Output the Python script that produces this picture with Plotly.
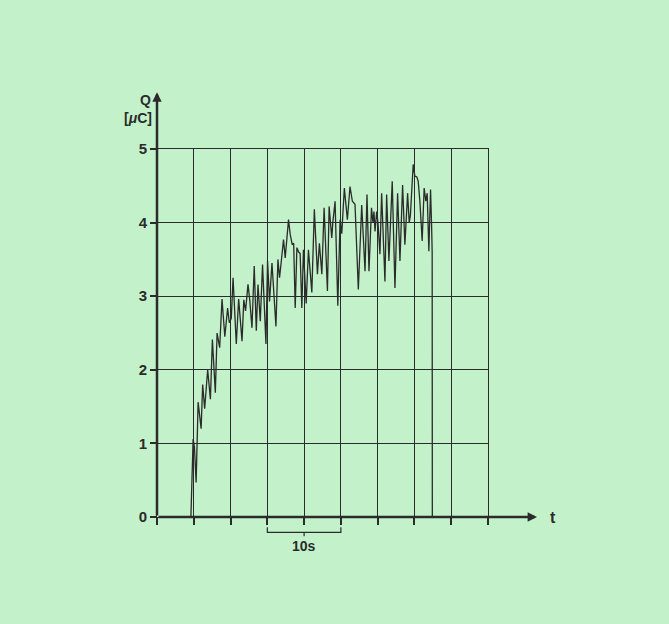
import plotly.graph_objects as go

# time in seconds (5 s per grid division), charge Q in µC
t_s = [4.61, 4.91, 5.09, 5.32, 5.59, 6.00, 6.21, 6.48, 6.89, 7.26, 7.53, 7.93, 8.17, 8.52,
       8.84, 9.22, 9.60, 9.83, 10.10, 10.34, 10.78, 11.10, 11.56, 11.80, 12.04, 12.37, 12.61,
       12.91, 13.22, 13.50, 13.73, 14.04, 14.35, 14.81, 15.03, 15.30, 15.63, 16.17, 16.44,
       16.66, 16.82, 17.20, 17.43, 17.88, 18.11, 18.38, 18.58, 18.79, 19.02, 19.26, 19.46,
       19.69, 19.91, 20.28, 20.59, 21.05, 21.39, 21.81, 22.08, 22.41, 22.72, 23.17, 23.40,
       23.76, 23.90, 24.21, 24.58, 24.89, 25.12, 25.47, 25.88, 26.24, 26.56, 26.92, 27.37,
       27.60, 27.83, 28.28, 28.55, 28.82, 29.16, 29.36, 29.50, 29.64, 29.87, 30.04, 30.31,
       30.54, 30.99, 31.22, 31.53, 31.98, 32.35, 32.71, 33.03, 33.39, 33.70, 34.07, 34.29,
       34.45, 34.83, 35.06, 35.33, 35.51, 35.74, 36.05, 36.32, 36.55, 36.73, 36.96, 37.19,
       37.33, 37.41, 37.43]
q_uc = [0.00, 1.06, 0.95, 0.47, 1.56, 1.20, 1.80, 1.47, 2.00, 1.60, 2.41, 1.69, 2.50, 2.30,
        2.96, 2.45, 2.84, 2.64, 2.70, 3.25, 2.35, 2.96, 2.39, 2.95, 2.80, 3.16, 2.95,
        2.57, 3.41, 2.53, 3.16, 2.66, 3.43, 2.35, 3.48, 2.93, 3.45, 2.59, 3.50,
        3.25, 3.40, 3.77, 3.52, 4.04, 3.84, 3.70, 3.72, 2.84, 3.66, 3.60, 3.58,
        2.84, 3.63, 2.90, 3.63, 3.05, 4.18, 3.30, 3.72, 3.30, 4.20, 3.07, 4.22,
        3.79, 4.00, 4.29, 2.87, 4.04, 3.85, 4.47, 4.04, 4.49, 4.29, 4.25, 3.09,
        3.80, 4.24, 3.34, 4.38, 3.34, 4.20, 4.00, 4.15, 3.88, 4.15, 4.00, 3.57,
        4.40, 3.20, 4.38, 3.48, 4.56, 3.11, 4.40, 3.48, 4.51, 3.70, 4.40, 4.00,
        4.10, 4.79, 4.63, 4.62, 4.56, 4.29, 3.75, 4.47, 4.29, 4.40, 3.61, 4.45,
        3.97, 3.60, 0.00]

y_ticks = [0, 1, 2, 3, 4, 5]
x_ticks = [0, 5, 10, 15, 20, 25, 30, 35, 40, 45]
bracket_span = [15, 25]
bracket_label = "10s"

BG = "#c3f2ca"
INK = "#2b2b2b"
FONT = "Liberation Sans"

fig = go.Figure()
fig.add_trace(go.Scatter(x=t_s, y=q_uc, mode="lines",
                         line=dict(color=INK, width=1.3), hoverinfo="skip",
                         showlegend=False))

fig.update_layout(
    width=669, height=624,
    margin=dict(l=157, r=181, t=149, b=107),
    paper_bgcolor=BG, plot_bgcolor=BG,
    xaxis=dict(range=[x_ticks[0], x_ticks[-1]], tickmode="array", tickvals=x_ticks,
               showticklabels=False, ticks="outside", ticklen=7, tickwidth=2, tickcolor=INK,
               showgrid=True, gridcolor=INK, gridwidth=1, zeroline=False,
               showline=True, mirror=True, linecolor=INK, linewidth=1),
    yaxis=dict(range=[y_ticks[0], y_ticks[-1]], tickmode="array", tickvals=y_ticks,
               ticktext=[str(v) for v in y_ticks],
               tickfont=dict(family=FONT, size=15, color=INK, weight="bold"),
               ticks="outside", ticklen=6, tickwidth=2, tickcolor=INK,
               showgrid=True, gridcolor=INK, gridwidth=1, zeroline=False,
               showline=True, mirror=True, linecolor=INK, linewidth=1),
)

# thick axes with arrows
fig.add_annotation(xref="x domain", yref="y domain", axref="x domain", ayref="y domain",
                   x=1.148, y=0, ax=0, ay=0, showarrow=True, arrowhead=2, arrowsize=0.75,
                   arrowwidth=2.5, arrowcolor=INK, text="")
fig.add_annotation(xref="x domain", yref="y domain", axref="x domain", ayref="y domain",
                   x=0, y=1.154, ax=0, ay=0, showarrow=True, arrowhead=2, arrowsize=0.75,
                   arrowwidth=2.5, arrowcolor=INK, text="")

txt = dict(showarrow=False, xanchor="center", yanchor="middle",
           xref="x domain", yref="y domain")
# axis titles
fig.add_annotation(x=-0.036, y=1.132, text="Q",
                   font=dict(family=FONT, size=14, color=INK, weight="bold"), **txt)
fig.add_annotation(x=-0.058, y=1.083, text="[<i>μ</i>C]",
                   font=dict(family=FONT, size=14, color=INK, weight="bold"), **txt)
fig.add_annotation(x=1.196, y=0.0, text="t",
                   font=dict(family=FONT, size=16, color=INK, weight="bold"), **txt)

# 10 s scale bracket
b0, b1 = bracket_span
bm = (b0 + b1) / 2
fig.add_shape(type="path", xref="x", yref="y domain",
              path=f"M {b0},-0.028 L {b0},-0.042 L {b1},-0.042 L {b1},-0.028 M {bm},-0.042 L {bm},-0.052",
              line=dict(color=INK, width=1.2))
fig.add_annotation(xref="x", yref="y domain", x=bm, y=-0.08, text=bracket_label,
                   showarrow=False, xanchor="center", yanchor="middle",
                   font=dict(family=FONT, size=14, color=INK, weight="bold"))

fig.write_html("out.html", config={"displayModeBar": False},
               post_script="document.body.style.margin='0';"
                           "document.body.style.background='" + BG + "';")
